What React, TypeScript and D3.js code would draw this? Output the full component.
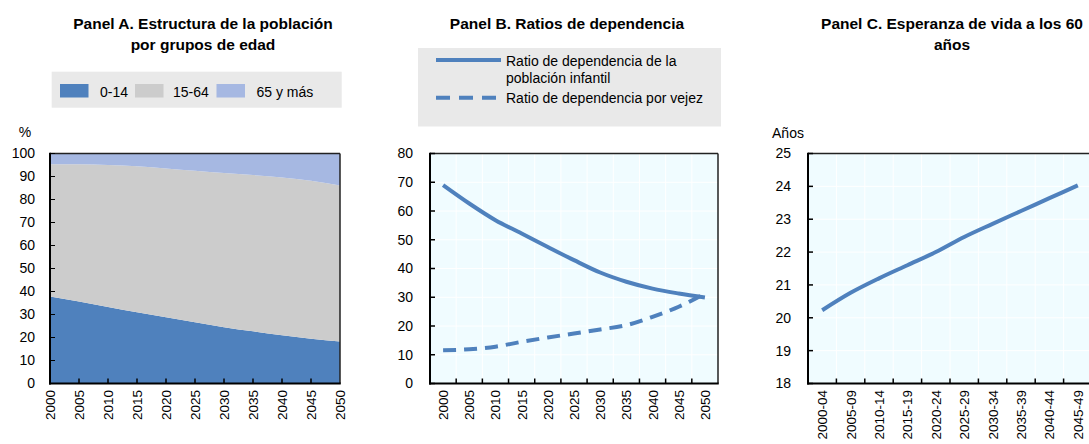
import React from "react";
import * as d3 from "d3";

const years = [2000, 2005, 2010, 2015, 2020, 2025, 2030, 2035, 2040, 2045, 2050];
const pop0to14 = [37.8, 35.6, 33.3, 31.0, 28.8, 26.6, 24.5, 22.7, 21.0, 19.5, 18.3];
const pop15to64 = [57.5, 59.7, 61.7, 63.5, 64.7, 65.9, 67.0, 67.9, 68.6, 68.7, 67.8];
const pop65plus = [4.7, 4.7, 5.0, 5.5, 6.5, 7.5, 8.5, 9.4, 10.4, 11.8, 13.9];
const popTicks = [0, 10, 20, 30, 40, 50, 60, 70, 80, 90, 100];

const childDep = [69.0, 62.6, 56.8, 52.2, 47.5, 42.9, 38.6, 35.4, 33.0, 31.3, 29.9];
const oldDep = [11.6, 11.9, 12.8, 14.5, 16.0, 17.4, 18.8, 20.3, 23.2, 26.7, 31.3];
const depTicks = [0, 10, 20, 30, 40, 50, 60, 70, 80];

const periods = ["2000-04", "2005-09", "2010-14", "2015-19", "2020-24", "2025-29", "2030-34", "2035-39", "2040-44", "2045-49"];
const lifeExp = [20.23, 20.76, 21.2, 21.6, 22.0, 22.46, 22.86, 23.25, 23.64, 24.03];
const lifeTicks = [18, 19, 20, 21, 22, 23, 24, 25];

const FONT = "'Liberation Sans', Arial, sans-serif";
const BLUE = "#4F81BD";
const GRAY = "#CCCCCC";
const LIGHT = "#A6B8E2";
const BG = "#F0FCFF";
const LEG_BG = "#E9E9E9";
const TOP = 153.5;
const BOT = 383.5;
const FS = 14;
const XFS = 13.5;
const TFS = 15.5;

function Frame({ x0, x1 }: { x0: number; x1: number }) {
  return (
    <g>
      <line x1={x0} x2={x1} y1={TOP} y2={TOP} stroke="#222" strokeWidth={1.5} />
      <line x1={x1} x2={x1} y1={TOP} y2={BOT} stroke="#222" strokeWidth={1.5} />
      <line x1={x0} x2={x0} y1={TOP - 0.75} y2={BOT + 1} stroke="#000" strokeWidth={2} />
      <line x1={x0 - 1} x2={x1 + 0.75} y1={BOT} y2={BOT} stroke="#000" strokeWidth={2} />
    </g>
  );
}

function PanelA() {
  const x = d3.scaleLinear().domain([2000, 2050]).range([50, 340]);
  const y = d3.scaleLinear().domain([0, 100]).range([BOT, TOP]);
  const data = years.map((yr, i) => ({ yr, a: pop0to14[i], b: pop15to64[i], c: pop65plus[i] }));
  const stack = d3.stack<any>().keys(["a", "b", "c"])(data);
  const area = d3
    .area<any>()
    .x((d) => x(d.data.yr))
    .y0((d) => y(d[0]))
    .y1((d) => y(Math.min(100, d[1])))
    .curve(d3.curveMonotoneX);
  const colors = [BLUE, GRAY, LIGHT];
  const leg = [
    { label: "0-14", c: BLUE, sx: 60, tx: 100 },
    { label: "15-64", c: GRAY, sx: 135, tx: 173 },
    { label: "65 y más", c: LIGHT, sx: 216.5, tx: 256.5 },
  ];
  return (
    <g>
      <text x={203} y={28.5} textAnchor="middle" fontWeight="bold" fontSize={TFS} fontFamily={FONT}>
        Panel A. Estructura de la población
      </text>
      <text x={203} y={50} textAnchor="middle" fontWeight="bold" fontSize={TFS} fontFamily={FONT}>
        por grupos de edad
      </text>
      <rect x={51.7} y={71.7} width={290} height={36} fill={LEG_BG} />
      {leg.map((l) => (
        <g key={l.label}>
          <rect x={l.sx} y={84} width={28.5} height={13.5} fill={l.c} />
          <text x={l.tx} y={96.5} fontSize={FS} fontFamily={FONT}>
            {l.label}
          </text>
        </g>
      ))}
      <text x={25} y={137} textAnchor="middle" fontSize={FS} fontFamily={FONT}>%</text>
      {stack.map((s, i) => (
        <path key={i} d={area(s as any) || ""} fill={colors[i]} />
      ))}
      <Frame x0={50} x1={340} />
      {years.slice(1, -1).map((yr) => (
        <line key={yr} x1={x(yr)} x2={x(yr)} y1={BOT} y2={BOT - 5} stroke="#000" strokeWidth={1.5} />
      ))}
      {popTicks.map((t) => (
        <g key={t}>
          <line x1={50} x2={55} y1={y(t)} y2={y(t)} stroke="#000" strokeWidth={1} />
          <text x={35} y={y(t)} dy="0.35em" textAnchor="end" fontSize={FS} fontFamily={FONT}>
            {t}
          </text>
        </g>
      ))}
      {years.map((yr) => (
        <text
          key={yr}
          transform={`translate(${x(yr) + 5},${390}) rotate(-90)`}
          textAnchor="end"
          fontSize={XFS}
          fontFamily={FONT}
        >
          {yr}
        </text>
      ))}
    </g>
  );
}

function PanelB() {
  const x0 = 430, x1 = 718;
  const x = d3.scaleBand<number>().domain(years).range([x0, x1]);
  const y = d3.scaleLinear().domain([0, 80]).range([BOT, TOP]);
  const cx = (yr: number) => (x(yr) as number) + x.bandwidth() / 2;
  const line = d3
    .line<number>()
    .x((_, i) => cx(years[i]))
    .y((d) => y(d))
    .curve(d3.curveMonotoneX);
  return (
    <g>
      <text x={567} y={28.5} textAnchor="middle" fontWeight="bold" fontSize={TFS} fontFamily={FONT}>
        Panel B. Ratios de dependencia
      </text>
      <rect x={418} y={48} width={303} height={78.5} fill={LEG_BG} />
      <line x1={436} x2={501} y1={60} y2={60} stroke={BLUE} strokeWidth={4} />
      <text x={506} y={66} fontSize={FS} fontFamily={FONT}>Ratio de dependencia de la</text>
      <text x={506} y={82.5} fontSize={FS} fontFamily={FONT}>población infantil</text>
      <line x1={436} x2={501} y1={97.7} y2={97.7} stroke={BLUE} strokeWidth={4} strokeDasharray="14,9" />
      <text x={506} y={103} fontSize={FS} fontFamily={FONT}>Ratio de dependencia por vejez</text>
      <rect x={x0} y={TOP} width={x1 - x0} height={BOT - TOP} fill={BG} />
      {depTicks.slice(1, -1).map((t) => (
        <line key={t} x1={x0} x2={x1} y1={y(t)} y2={y(t)} stroke="#fff" strokeWidth={1} />
      ))}
      {years.slice(1).map((yr) => (
        <line key={yr} x1={x(yr)} x2={x(yr)} y1={TOP} y2={BOT} stroke="#fff" strokeWidth={1} />
      ))}
      <path d={line(childDep) || ""} fill="none" stroke={BLUE} strokeWidth={4} />
      <path d={line(oldDep) || ""} fill="none" stroke={BLUE} strokeWidth={4} strokeDasharray="13,8" />
      <Frame x0={x0} x1={x1} />
      {years.slice(1).map((yr) => (
        <line key={yr} x1={x(yr)} x2={x(yr)} y1={BOT} y2={BOT - 5} stroke="#000" strokeWidth={1.5} />
      ))}
      {depTicks.map((t) => (
        <g key={t}>
          <line x1={x0} x2={x0 + 5} y1={y(t)} y2={y(t)} stroke="#000" strokeWidth={1.5} />
          <text x={413} y={y(t)} dy="0.35em" textAnchor="end" fontSize={FS} fontFamily={FONT}>
            {t}
          </text>
        </g>
      ))}
      {years.map((yr) => (
        <text
          key={yr}
          transform={`translate(${cx(yr) + 5},${390}) rotate(-90)`}
          textAnchor="end"
          fontSize={XFS}
          fontFamily={FONT}
        >
          {yr}
        </text>
      ))}
    </g>
  );
}

function PanelC() {
  const x0 = 808, x1 = 1092;
  const x = d3.scaleBand<string>().domain(periods).range([x0, x1]);
  const y = d3.scaleLinear().domain([18, 25]).range([BOT, TOP]);
  const cx = (p: string) => (x(p) as number) + x.bandwidth() / 2;
  const line = d3
    .line<number>()
    .x((_, i) => cx(periods[i]))
    .y((d) => y(d))
    .curve(d3.curveMonotoneX);
  return (
    <g>
      <text x={952} y={28.5} textAnchor="middle" fontWeight="bold" fontSize={TFS} fontFamily={FONT}>
        Panel C. Esperanza de vida a los 60
      </text>
      <text x={952} y={50} textAnchor="middle" fontWeight="bold" fontSize={TFS} fontFamily={FONT}>
        años
      </text>
      <text x={788} y={138} textAnchor="middle" fontSize={FS} fontFamily={FONT}>Años</text>
      <rect x={x0} y={TOP} width={x1 - x0} height={BOT - TOP} fill={BG} />
      {lifeTicks.slice(1, -1).map((t) => (
        <line key={t} x1={x0} x2={x1} y1={y(t)} y2={y(t)} stroke="#fff" strokeWidth={1} />
      ))}
      {periods.slice(1).map((p) => (
        <line key={p} x1={x(p)} x2={x(p)} y1={TOP} y2={BOT} stroke="#fff" strokeWidth={1} />
      ))}
      <path d={line(lifeExp) || ""} fill="none" stroke={BLUE} strokeWidth={4} />
      <Frame x0={x0} x1={x1} />
      {periods.slice(1).map((p) => (
        <line key={p} x1={x(p)} x2={x(p)} y1={BOT} y2={BOT - 5} stroke="#000" strokeWidth={1.5} />
      ))}
      {lifeTicks.map((t) => (
        <g key={t}>
          <line x1={x0} x2={x0 + 5} y1={y(t)} y2={y(t)} stroke="#000" strokeWidth={1.5} />
          <text x={791} y={y(t)} dy="0.35em" textAnchor="end" fontSize={FS} fontFamily={FONT}>
            {t}
          </text>
        </g>
      ))}
      {periods.map((p) => (
        <text
          key={p}
          transform={`translate(${cx(p) + 5},${390}) rotate(-90)`}
          textAnchor="end"
          fontSize={XFS}
          fontFamily={FONT}
        >
          {p}
        </text>
      ))}
    </g>
  );
}

export default function App() {
  return (
    <svg
      width={1089}
      height={444}
      style={{ position: "absolute", left: 0, top: 0, display: "block", background: "#fff" }}
    >
      <PanelA />
      <PanelB />
      <PanelC />
    </svg>
  );
}
